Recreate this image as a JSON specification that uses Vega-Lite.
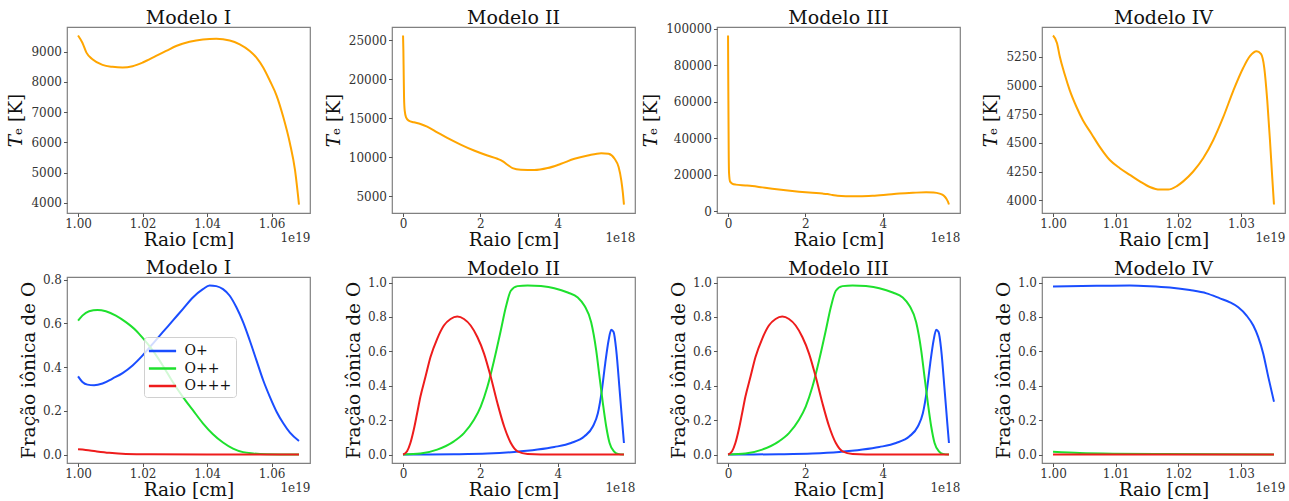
{
  "$schema": "https://vega.github.io/schema/vega-lite/v6.json",
  "background": "white",
  "padding": {"left": 6, "top": 8, "right": 0, "bottom": 0},
  "columns": 4,
  "spacing": {"row": 64, "column": 82},
  "bounds": "flush",
  "resolve": {"scale": {"color": "independent"}, "legend": {"color": "independent"}},
  "config": {
    "font": "DejaVu Serif",
    "view": {"stroke": "#808080", "strokeWidth": 1.2},
    "axis": {
      "grid": false, "domain": false,
      "tickColor": "#555555", "tickSize": 3.5, "tickWidth": 1,
      "labelFont": "DejaVu Serif", "labelFontSize": 12, "labelColor": "#333333", "labelPadding": 2, "labelFlush": false,
      "titleFont": "DejaVu Serif", "titleFontSize": 18.5, "titleFontWeight": "normal", "titleColor": "#111111"
    },
    "axisX": {"titlePadding": 1},
    "axisY": {"titlePadding": 5},
    "title": {"font": "DejaVu Serif", "fontSize": 19, "fontWeight": "normal", "color": "#111111", "offset": -1, "frame": "group"},
    "legend": {
      "labelFont": "DejaVu Serif", "labelFontSize": 14, "labelColor": "#111111",
      "symbolType": "M-1.6,0H1.6", "symbolSize": 289, "symbolStrokeWidth": 2.5, "symbolOffset": 4.5,
      "labelOffset": 12, "rowPadding": 0.5, "padding": 4,
      "fillColor": "rgba(255,255,255,0.8)", "strokeColor": "#d0d0d0", "cornerRadius": 3
    }
  },
  "datasets": {
    "te1": [
      {"r": 1.0e19, "T": 9535}, {"r": 1.00135e19, "T": 9295}, {"r": 1.0026e19, "T": 8967}, {"r": 1.00446e19, "T": 8749},
      {"r": 1.00758e19, "T": 8563}, {"r": 1.01069e19, "T": 8498}, {"r": 1.01381e19, "T": 8476}, {"r": 1.01692e19, "T": 8520},
      {"r": 1.02004e19, "T": 8640}, {"r": 1.02419e19, "T": 8858}, {"r": 1.0273e19, "T": 9022}, {"r": 1.03042e19, "T": 9186},
      {"r": 1.03457e19, "T": 9328}, {"r": 1.03872e19, "T": 9404}, {"r": 1.04287e19, "T": 9426}, {"r": 1.04703e19, "T": 9371},
      {"r": 1.05014e19, "T": 9240}, {"r": 1.05325e19, "T": 9022}, {"r": 1.05533e19, "T": 8803}, {"r": 1.05741e19, "T": 8476},
      {"r": 1.05948e19, "T": 8039}, {"r": 1.06156e19, "T": 7548}, {"r": 1.06364e19, "T": 6838}, {"r": 1.06571e19, "T": 5965},
      {"r": 1.06727e19, "T": 5092}, {"r": 1.06851e19, "T": 3946}
    ],
    "te2": [
      {"r": 0, "T": 25594}, {"r": 0.009e18, "T": 23599}, {"r": 0.017e18, "T": 20627}, {"r": 0.026e18, "T": 17654},
      {"r": 0.043e18, "T": 15956}, {"r": 0.078e18, "T": 15107}, {"r": 0.147e18, "T": 14682}, {"r": 0.277e18, "T": 14470},
      {"r": 0.45e18, "T": 14257}, {"r": 0.623e18, "T": 13918}, {"r": 0.883e18, "T": 13196}, {"r": 1.143e18, "T": 12474},
      {"r": 1.489e18, "T": 11625}, {"r": 1.835e18, "T": 10861}, {"r": 2.182e18, "T": 10224}, {"r": 2.442e18, "T": 9799},
      {"r": 2.571e18, "T": 9502}, {"r": 2.701e18, "T": 9035}, {"r": 2.831e18, "T": 8611}, {"r": 3.048e18, "T": 8398},
      {"r": 3.394e18, "T": 8356}, {"r": 3.74e18, "T": 8611}, {"r": 4.087e18, "T": 9163}, {"r": 4.433e18, "T": 9799},
      {"r": 4.779e18, "T": 10224}, {"r": 5.126e18, "T": 10521}, {"r": 5.316e18, "T": 10436}, {"r": 5.472e18, "T": 9799},
      {"r": 5.576e18, "T": 8738}, {"r": 5.645e18, "T": 7040}, {"r": 5.688e18, "T": 5341}, {"r": 5.714e18, "T": 3940}
    ],
    "te3": [
      {"r": 0, "T": 96390}, {"r": 0.004e18, "T": 78000}, {"r": 0.009e18, "T": 60650}, {"r": 0.017e18, "T": 33580},
      {"r": 0.026e18, "T": 20940}, {"r": 0.052e18, "T": 16430}, {"r": 0.104e18, "T": 15300}, {"r": 0.2e18, "T": 14700},
      {"r": 0.45e18, "T": 14257}, {"r": 0.623e18, "T": 13918}, {"r": 0.883e18, "T": 13196}, {"r": 1.143e18, "T": 12474},
      {"r": 1.489e18, "T": 11625}, {"r": 1.835e18, "T": 10861}, {"r": 2.182e18, "T": 10224}, {"r": 2.442e18, "T": 9799},
      {"r": 2.571e18, "T": 9502}, {"r": 2.701e18, "T": 9035}, {"r": 2.831e18, "T": 8611}, {"r": 3.048e18, "T": 8398},
      {"r": 3.394e18, "T": 8356}, {"r": 3.74e18, "T": 8611}, {"r": 4.087e18, "T": 9163}, {"r": 4.433e18, "T": 9799},
      {"r": 4.779e18, "T": 10224}, {"r": 5.126e18, "T": 10521}, {"r": 5.316e18, "T": 10436}, {"r": 5.472e18, "T": 9799},
      {"r": 5.576e18, "T": 8738}, {"r": 5.645e18, "T": 7040}, {"r": 5.688e18, "T": 5341}, {"r": 5.714e18, "T": 3790}
    ],
    "te4": [
      {"r": 1.0e19, "T": 5437}, {"r": 1.00064e19, "T": 5370}, {"r": 1.00107e19, "T": 5255}, {"r": 1.00186e19, "T": 5098},
      {"r": 1.00266e19, "T": 4960}, {"r": 1.00373e19, "T": 4815}, {"r": 1.00479e19, "T": 4695}, {"r": 1.00613e19, "T": 4580},
      {"r": 1.00746e19, "T": 4465}, {"r": 1.00906e19, "T": 4350}, {"r": 1.01066e19, "T": 4279}, {"r": 1.01226e19, "T": 4221},
      {"r": 1.01385e19, "T": 4164}, {"r": 1.01545e19, "T": 4115}, {"r": 1.01705e19, "T": 4092}, {"r": 1.01838e19, "T": 4092},
      {"r": 1.01971e19, "T": 4121}, {"r": 1.02078e19, "T": 4164}, {"r": 1.02238e19, "T": 4250}, {"r": 1.02397e19, "T": 4365},
      {"r": 1.02557e19, "T": 4523}, {"r": 1.02717e19, "T": 4724}, {"r": 1.02877e19, "T": 4954}, {"r": 1.03037e19, "T": 5155},
      {"r": 1.03143e19, "T": 5256}, {"r": 1.0325e19, "T": 5299}, {"r": 1.03319e19, "T": 5276}, {"r": 1.03372e19, "T": 5155},
      {"r": 1.0342e19, "T": 4868}, {"r": 1.03463e19, "T": 4523}, {"r": 1.03495e19, "T": 4236}, {"r": 1.03527e19, "T": 3962}
    ],
    "ion1": [
      {"ion": "O+", "r": 1.0e19, "f": 0.358}, {"ion": "O+", "r": 1.00135e19, "f": 0.3325}, {"ion": "O+", "r": 1.00291e19, "f": 0.32},
      {"ion": "O+", "r": 1.00498e19, "f": 0.317}, {"ion": "O+", "r": 1.00758e19, "f": 0.325}, {"ion": "O+", "r": 1.01069e19, "f": 0.348},
      {"ion": "O+", "r": 1.01381e19, "f": 0.373}, {"ion": "O+", "r": 1.01692e19, "f": 0.408}, {"ion": "O+", "r": 1.02004e19, "f": 0.454},
      {"ion": "O+", "r": 1.02315e19, "f": 0.507}, {"ion": "O+", "r": 1.02626e19, "f": 0.56}, {"ion": "O+", "r": 1.02938e19, "f": 0.613},
      {"ion": "O+", "r": 1.03249e19, "f": 0.666}, {"ion": "O+", "r": 1.03561e19, "f": 0.719}, {"ion": "O+", "r": 1.03872e19, "f": 0.757},
      {"ion": "O+", "r": 1.0408e19, "f": 0.774}, {"ion": "O+", "r": 1.04287e19, "f": 0.771}, {"ion": "O+", "r": 1.04495e19, "f": 0.757},
      {"ion": "O+", "r": 1.04703e19, "f": 0.727}, {"ion": "O+", "r": 1.0491e19, "f": 0.674}, {"ion": "O+", "r": 1.05118e19, "f": 0.606},
      {"ion": "O+", "r": 1.05325e19, "f": 0.522}, {"ion": "O+", "r": 1.05533e19, "f": 0.431}, {"ion": "O+", "r": 1.05741e19, "f": 0.34},
      {"ion": "O+", "r": 1.05948e19, "f": 0.264}, {"ion": "O+", "r": 1.06156e19, "f": 0.196}, {"ion": "O+", "r": 1.06364e19, "f": 0.143},
      {"ion": "O+", "r": 1.06571e19, "f": 0.1}, {"ion": "O+", "r": 1.06851e19, "f": 0.062},
      {"ion": "O++", "r": 1.0e19, "f": 0.613}, {"ion": "O++", "r": 1.00135e19, "f": 0.636}, {"ion": "O++", "r": 1.00343e19, "f": 0.656},
      {"ion": "O++", "r": 1.00602e19, "f": 0.662}, {"ion": "O++", "r": 1.00862e19, "f": 0.656}, {"ion": "O++", "r": 1.01173e19, "f": 0.636},
      {"ion": "O++", "r": 1.01484e19, "f": 0.606}, {"ion": "O++", "r": 1.01796e19, "f": 0.568}, {"ion": "O++", "r": 1.02004e19, "f": 0.534},
      {"ion": "O++", "r": 1.02315e19, "f": 0.477}, {"ion": "O++", "r": 1.02626e19, "f": 0.408}, {"ion": "O++", "r": 1.02938e19, "f": 0.332},
      {"ion": "O++", "r": 1.03249e19, "f": 0.264}, {"ion": "O++", "r": 1.03561e19, "f": 0.203}, {"ion": "O++", "r": 1.03872e19, "f": 0.143},
      {"ion": "O++", "r": 1.04184e19, "f": 0.093}, {"ion": "O++", "r": 1.04495e19, "f": 0.055}, {"ion": "O++", "r": 1.04806e19, "f": 0.027},
      {"ion": "O++", "r": 1.05118e19, "f": 0.011}, {"ion": "O++", "r": 1.05429e19, "f": 0.005}, {"ion": "O++", "r": 1.05845e19, "f": 0.0015},
      {"ion": "O++", "r": 1.06851e19, "f": 0.0},
      {"ion": "O+++", "r": 1.0e19, "f": 0.024}, {"ion": "O+++", "r": 1.00239e19, "f": 0.021}, {"ion": "O+++", "r": 1.0055e19, "f": 0.015},
      {"ion": "O+++", "r": 1.00965e19, "f": 0.008}, {"ion": "O+++", "r": 1.01484e19, "f": 0.003}, {"ion": "O+++", "r": 1.02211e19, "f": 0.0015},
      {"ion": "O+++", "r": 1.06851e19, "f": 0.0}
    ],
    "ion2": [
      {"ion": "O+", "r": 0, "f": 0.0}, {"ion": "O+", "r": 1.316e18, "f": 0.002}, {"ion": "O+", "r": 2.182e18, "f": 0.006},
      {"ion": "O+", "r": 2.874e18, "f": 0.015}, {"ion": "O+", "r": 3.48e18, "f": 0.029}, {"ion": "O+", "r": 3.913e18, "f": 0.044},
      {"ion": "O+", "r": 4.346e18, "f": 0.067}, {"ion": "O+", "r": 4.693e18, "f": 0.106}, {"ion": "O+", "r": 4.909e18, "f": 0.163},
      {"ion": "O+", "r": 5.039e18, "f": 0.24}, {"ion": "O+", "r": 5.143e18, "f": 0.375}, {"ion": "O+", "r": 5.229e18, "f": 0.529},
      {"ion": "O+", "r": 5.316e18, "f": 0.663}, {"ion": "O+", "r": 5.385e18, "f": 0.725}, {"ion": "O+", "r": 5.446e18, "f": 0.712},
      {"ion": "O+", "r": 5.515e18, "f": 0.606}, {"ion": "O+", "r": 5.602e18, "f": 0.375}, {"ion": "O+", "r": 5.671e18, "f": 0.183},
      {"ion": "O+", "r": 5.714e18, "f": 0.067},
      {"ion": "O++", "r": 0, "f": 0.0}, {"ion": "O++", "r": 0.45e18, "f": 0.006}, {"ion": "O++", "r": 0.883e18, "f": 0.029},
      {"ion": "O++", "r": 1.316e18, "f": 0.077}, {"ion": "O++", "r": 1.576e18, "f": 0.125}, {"ion": "O++", "r": 1.835e18, "f": 0.202},
      {"ion": "O++", "r": 2.009e18, "f": 0.279}, {"ion": "O++", "r": 2.182e18, "f": 0.394}, {"ion": "O++", "r": 2.355e18, "f": 0.548},
      {"ion": "O++", "r": 2.528e18, "f": 0.721}, {"ion": "O++", "r": 2.658e18, "f": 0.856}, {"ion": "O++", "r": 2.788e18, "f": 0.952},
      {"ion": "O++", "r": 2.961e18, "f": 0.979}, {"ion": "O++", "r": 3.221e18, "f": 0.983}, {"ion": "O++", "r": 3.567e18, "f": 0.979},
      {"ion": "O++", "r": 3.913e18, "f": 0.967}, {"ion": "O++", "r": 4.26e18, "f": 0.942}, {"ion": "O++", "r": 4.519e18, "f": 0.913},
      {"ion": "O++", "r": 4.693e18, "f": 0.865}, {"ion": "O++", "r": 4.866e18, "f": 0.769}, {"ion": "O++", "r": 4.996e18, "f": 0.606},
      {"ion": "O++", "r": 5.082e18, "f": 0.452}, {"ion": "O++", "r": 5.169e18, "f": 0.298}, {"ion": "O++", "r": 5.255e18, "f": 0.163},
      {"ion": "O++", "r": 5.342e18, "f": 0.067}, {"ion": "O++", "r": 5.455e18, "f": 0.019}, {"ion": "O++", "r": 5.558e18, "f": 0.004},
      {"ion": "O++", "r": 5.714e18, "f": 0.0},
      {"ion": "O+++", "r": 0, "f": 0.0}, {"ion": "O+++", "r": 0.104e18, "f": 0.019}, {"ion": "O+++", "r": 0.19e18, "f": 0.067},
      {"ion": "O+++", "r": 0.277e18, "f": 0.144}, {"ion": "O+++", "r": 0.364e18, "f": 0.24}, {"ion": "O+++", "r": 0.45e18, "f": 0.337},
      {"ion": "O+++", "r": 0.58e18, "f": 0.452}, {"ion": "O+++", "r": 0.71e18, "f": 0.567}, {"ion": "O+++", "r": 0.883e18, "f": 0.673},
      {"ion": "O+++", "r": 1.056e18, "f": 0.75}, {"ion": "O+++", "r": 1.229e18, "f": 0.788}, {"ion": "O+++", "r": 1.403e18, "f": 0.802},
      {"ion": "O+++", "r": 1.576e18, "f": 0.788}, {"ion": "O+++", "r": 1.749e18, "f": 0.75}, {"ion": "O+++", "r": 1.922e18, "f": 0.683},
      {"ion": "O+++", "r": 2.095e18, "f": 0.587}, {"ion": "O+++", "r": 2.268e18, "f": 0.452}, {"ion": "O+++", "r": 2.442e18, "f": 0.298},
      {"ion": "O+++", "r": 2.615e18, "f": 0.163}, {"ion": "O+++", "r": 2.788e18, "f": 0.067}, {"ion": "O+++", "r": 2.961e18, "f": 0.019},
      {"ion": "O+++", "r": 3.221e18, "f": 0.004}, {"ion": "O+++", "r": 3.913e18, "f": 0.0}, {"ion": "O+++", "r": 5.714e18, "f": 0.0}
    ],
    "ion4": [
      {"ion": "O+", "r": 1.0e19, "f": 0.977}, {"ion": "O+", "r": 1.00693e19, "f": 0.981}, {"ion": "O+", "r": 1.01225e19, "f": 0.983},
      {"ion": "O+", "r": 1.01545e19, "f": 0.979}, {"ion": "O+", "r": 1.01865e19, "f": 0.971}, {"ion": "O+", "r": 1.02184e19, "f": 0.956},
      {"ion": "O+", "r": 1.02451e19, "f": 0.937}, {"ion": "O+", "r": 1.02664e19, "f": 0.908}, {"ion": "O+", "r": 1.02824e19, "f": 0.885},
      {"ion": "O+", "r": 1.02957e19, "f": 0.856}, {"ion": "O+", "r": 1.0309e19, "f": 0.808}, {"ion": "O+", "r": 1.03197e19, "f": 0.75},
      {"ion": "O+", "r": 1.03276e19, "f": 0.683}, {"ion": "O+", "r": 1.03356e19, "f": 0.587}, {"ion": "O+", "r": 1.03436e19, "f": 0.452},
      {"ion": "O+", "r": 1.03527e19, "f": 0.308},
      {"ion": "O++", "r": 1.0e19, "f": 0.017}, {"ion": "O++", "r": 1.00426e19, "f": 0.01}, {"ion": "O++", "r": 1.00959e19, "f": 0.006},
      {"ion": "O++", "r": 1.01758e19, "f": 0.004}, {"ion": "O++", "r": 1.03527e19, "f": 0.002},
      {"ion": "O+++", "r": 1.0e19, "f": 0.002}, {"ion": "O+++", "r": 1.03527e19, "f": 0.001}
    ]
  },
  "concat": [
    {
      "title": {"text": "Modelo I"}, "width": 243, "height": 186,
      "data": {"name": "te1"},
      "layer": [
        {"mark": {"type": "line", "color": "#ffa500", "strokeWidth": 2, "interpolate": "monotone"},
         "encoding": {
           "x": {"field": "r", "type": "quantitative", "scale": {"domain": [0.996575e19, 1.071925e19], "nice": false, "zero": false},
                 "axis": {"orient": "bottom", "title": "Raio [cm]", "values": [1.0e19, 1.02e19, 1.04e19, 1.06e19], "labelExpr": "format(datum.value / 1e19, '.2f')"}},
           "y": {"field": "T", "type": "quantitative", "scale": {"domain": [3667, 9814], "nice": false, "zero": false},
                 "axis": {"title": "𝑇ₑ [K]", "values": [4000, 5000, 6000, 7000, 8000, 9000], "format": "d"}}}},
        {"mark": {"type": "point", "opacity": 0},
         "encoding": {
           "x": {"field": "r", "type": "quantitative", "scale": {"domain": [0.996575e19, 1.071925e19], "nice": false, "zero": false},
                 "axis": {"orient": "bottom", "title": "1e19", "labels": false, "ticks": false, "domain": false, "titleAnchor": "end", "titleAlign": "right", "titleFontSize": 12, "titlePadding": 19, "titleColor": "#333333"}}}}
      ],
      "resolve": {"axis": {"x": "independent"}}
    },
    {
      "title": {"text": "Modelo II"}, "width": 243, "height": 186,
      "data": {"name": "te2"},
      "layer": [
        {"mark": {"type": "line", "color": "#ffa500", "strokeWidth": 2, "interpolate": "monotone"},
         "encoding": {
           "x": {"field": "r", "type": "quantitative", "scale": {"domain": [-0.2857e18, 5.9997e18], "nice": false, "zero": false},
                 "axis": {"orient": "bottom", "title": "Raio [cm]", "values": [0, 2e18, 4e18], "labelExpr": "format(datum.value / 1e18, '.0f')"}},
           "y": {"field": "T", "type": "quantitative", "scale": {"domain": [2857, 26677], "nice": false, "zero": false},
                 "axis": {"title": "𝑇ₑ [K]", "values": [5000, 10000, 15000, 20000, 25000], "format": "d"}}}},
        {"mark": {"type": "point", "opacity": 0},
         "encoding": {
           "x": {"field": "r", "type": "quantitative", "scale": {"domain": [-0.2857e18, 5.9997e18], "nice": false, "zero": false},
                 "axis": {"orient": "bottom", "title": "1e18", "labels": false, "ticks": false, "domain": false, "titleAnchor": "end", "titleAlign": "right", "titleFontSize": 12, "titlePadding": 19, "titleColor": "#333333"}}}}
      ],
      "resolve": {"axis": {"x": "independent"}}
    },
    {
      "title": {"text": "Modelo III", "dy": 4}, "width": 243, "height": 186,
      "data": {"name": "te3"},
      "layer": [
        {"mark": {"type": "line", "color": "#ffa500", "strokeWidth": 2, "interpolate": "monotone"},
         "encoding": {
           "x": {"field": "r", "type": "quantitative", "scale": {"domain": [-0.2857e18, 5.9997e18], "nice": false, "zero": false},
                 "axis": {"orient": "bottom", "title": "Raio [cm]", "values": [0, 2e18, 4e18], "labelExpr": "format(datum.value / 1e18, '.0f')"}},
           "y": {"field": "T", "type": "quantitative", "scale": {"domain": [-840, 101020], "nice": false, "zero": false},
                 "axis": {"title": "𝑇ₑ [K]", "values": [0, 20000, 40000, 60000, 80000, 100000], "format": "d"}}}},
        {"mark": {"type": "point", "opacity": 0},
         "encoding": {
           "x": {"field": "r", "type": "quantitative", "scale": {"domain": [-0.2857e18, 5.9997e18], "nice": false, "zero": false},
                 "axis": {"orient": "bottom", "title": "1e18", "labels": false, "ticks": false, "domain": false, "titleAnchor": "end", "titleAlign": "right", "titleFontSize": 12, "titlePadding": 19, "titleColor": "#333333"}}}}
      ],
      "resolve": {"axis": {"x": "independent"}}
    },
    {
      "title": {"text": "Modelo IV"}, "width": 243, "height": 186,
      "data": {"name": "te4"},
      "layer": [
        {"mark": {"type": "line", "color": "#ffa500", "strokeWidth": 2, "interpolate": "monotone"},
         "encoding": {
           "x": {"field": "r", "type": "quantitative", "scale": {"domain": [0.99824e19, 1.03703e19], "nice": false, "zero": false},
                 "axis": {"orient": "bottom", "title": "Raio [cm]", "values": [1.0e19, 1.01e19, 1.02e19, 1.03e19], "labelExpr": "format(datum.value / 1e19, '.2f')"}},
           "y": {"field": "T", "type": "quantitative", "scale": {"domain": [3888, 5511], "nice": false, "zero": false},
                 "axis": {"title": "𝑇ₑ [K]", "values": [4000, 4250, 4500, 4750, 5000, 5250], "format": "d"}}}},
        {"mark": {"type": "point", "opacity": 0},
         "encoding": {
           "x": {"field": "r", "type": "quantitative", "scale": {"domain": [0.99824e19, 1.03703e19], "nice": false, "zero": false},
                 "axis": {"orient": "bottom", "title": "1e19", "labels": false, "ticks": false, "domain": false, "titleAnchor": "end", "titleAlign": "right", "titleFontSize": 12, "titlePadding": 19, "titleColor": "#333333"}}}}
      ],
      "resolve": {"axis": {"x": "independent"}}
    },
    {
      "title": {"text": "Modelo I", "dy": 3}, "width": 243, "height": 186,
      "data": {"name": "ion1"},
      "layer": [
        {"mark": {"type": "line", "strokeWidth": 2, "interpolate": "monotone"},
         "encoding": {
           "x": {"field": "r", "type": "quantitative", "scale": {"domain": [0.996575e19, 1.071925e19], "nice": false, "zero": false},
                 "axis": {"orient": "bottom", "title": "Raio [cm]", "values": [1.0e19, 1.02e19, 1.04e19, 1.06e19], "labelExpr": "format(datum.value / 1e19, '.2f')"}},
           "y": {"field": "f", "type": "quantitative", "scale": {"domain": [-0.0387, 0.8127], "nice": false, "zero": false},
                 "axis": {"title": "Fração iônica de O", "values": [0, 0.2, 0.4, 0.6, 0.8], "format": ".1f", "titlePadding": 4}},
           "color": {"field": "ion", "type": "nominal",
                     "scale": {"domain": ["O+", "O++", "O+++"], "range": ["#1a4dff", "#1ee02d", "#ee1c1c"]},
                     "legend": {"orient": "none", "legendX": 77, "legendY": 60, "title": null}}}},
        {"mark": {"type": "point", "opacity": 0},
         "encoding": {
           "x": {"field": "r", "type": "quantitative", "scale": {"domain": [0.996575e19, 1.071925e19], "nice": false, "zero": false},
                 "axis": {"orient": "bottom", "title": "1e19", "labels": false, "ticks": false, "domain": false, "titleAnchor": "end", "titleAlign": "right", "titleFontSize": 12, "titlePadding": 19, "titleColor": "#333333"}}}}
      ],
      "resolve": {"axis": {"x": "independent"}}
    },
    {
      "title": {"text": "Modelo II", "dy": 1}, "width": 243, "height": 186,
      "data": {"name": "ion2"},
      "layer": [
        {"mark": {"type": "line", "strokeWidth": 2, "interpolate": "monotone"},
         "encoding": {
           "x": {"field": "r", "type": "quantitative", "scale": {"domain": [-0.2857e18, 5.9997e18], "nice": false, "zero": false},
                 "axis": {"orient": "bottom", "title": "Raio [cm]", "values": [0, 2e18, 4e18], "labelExpr": "format(datum.value / 1e18, '.0f')"}},
           "y": {"field": "f", "type": "quantitative", "scale": {"domain": [-0.049, 1.032], "nice": false, "zero": false},
                 "axis": {"title": "Fração iônica de O", "values": [0, 0.2, 0.4, 0.6, 0.8, 1.0], "format": ".1f", "titlePadding": 4}},
           "color": {"field": "ion", "type": "nominal",
                     "scale": {"domain": ["O+", "O++", "O+++"], "range": ["#1a4dff", "#1ee02d", "#ee1c1c"]}, "legend": null}}},
        {"mark": {"type": "point", "opacity": 0},
         "encoding": {
           "x": {"field": "r", "type": "quantitative", "scale": {"domain": [-0.2857e18, 5.9997e18], "nice": false, "zero": false},
                 "axis": {"orient": "bottom", "title": "1e18", "labels": false, "ticks": false, "domain": false, "titleAnchor": "end", "titleAlign": "right", "titleFontSize": 12, "titlePadding": 19, "titleColor": "#333333"}}}}
      ],
      "resolve": {"axis": {"x": "independent"}}
    },
    {
      "title": {"text": "Modelo III", "dy": 1}, "width": 243, "height": 186,
      "data": {"name": "ion2"},
      "layer": [
        {"mark": {"type": "line", "strokeWidth": 2, "interpolate": "monotone"},
         "encoding": {
           "x": {"field": "r", "type": "quantitative", "scale": {"domain": [-0.2857e18, 5.9997e18], "nice": false, "zero": false},
                 "axis": {"orient": "bottom", "title": "Raio [cm]", "values": [0, 2e18, 4e18], "labelExpr": "format(datum.value / 1e18, '.0f')"}},
           "y": {"field": "f", "type": "quantitative", "scale": {"domain": [-0.049, 1.032], "nice": false, "zero": false},
                 "axis": {"title": "Fração iônica de O", "values": [0, 0.2, 0.4, 0.6, 0.8, 1.0], "format": ".1f", "titlePadding": 4}},
           "color": {"field": "ion", "type": "nominal",
                     "scale": {"domain": ["O+", "O++", "O+++"], "range": ["#1a4dff", "#1ee02d", "#ee1c1c"]}, "legend": null}}},
        {"mark": {"type": "point", "opacity": 0},
         "encoding": {
           "x": {"field": "r", "type": "quantitative", "scale": {"domain": [-0.2857e18, 5.9997e18], "nice": false, "zero": false},
                 "axis": {"orient": "bottom", "title": "1e18", "labels": false, "ticks": false, "domain": false, "titleAnchor": "end", "titleAlign": "right", "titleFontSize": 12, "titlePadding": 19, "titleColor": "#333333"}}}}
      ],
      "resolve": {"axis": {"x": "independent"}}
    },
    {
      "title": {"text": "Modelo IV", "dy": 1}, "width": 243, "height": 186,
      "data": {"name": "ion4"},
      "layer": [
        {"mark": {"type": "line", "strokeWidth": 2, "interpolate": "monotone"},
         "encoding": {
           "x": {"field": "r", "type": "quantitative", "scale": {"domain": [0.99824e19, 1.03703e19], "nice": false, "zero": false},
                 "axis": {"orient": "bottom", "title": "Raio [cm]", "values": [1.0e19, 1.01e19, 1.02e19, 1.03e19], "labelExpr": "format(datum.value / 1e19, '.2f')"}},
           "y": {"field": "f", "type": "quantitative", "scale": {"domain": [-0.048, 1.032], "nice": false, "zero": false},
                 "axis": {"title": "Fração iônica de O", "values": [0, 0.2, 0.4, 0.6, 0.8, 1.0], "format": ".1f", "titlePadding": 4}},
           "color": {"field": "ion", "type": "nominal",
                     "scale": {"domain": ["O+", "O++", "O+++"], "range": ["#1a4dff", "#1ee02d", "#ee1c1c"]}, "legend": null}}},
        {"mark": {"type": "point", "opacity": 0},
         "encoding": {
           "x": {"field": "r", "type": "quantitative", "scale": {"domain": [0.99824e19, 1.03703e19], "nice": false, "zero": false},
                 "axis": {"orient": "bottom", "title": "1e19", "labels": false, "ticks": false, "domain": false, "titleAnchor": "end", "titleAlign": "right", "titleFontSize": 12, "titlePadding": 19, "titleColor": "#333333"}}}}
      ],
      "resolve": {"axis": {"x": "independent"}}
    }
  ]
}
